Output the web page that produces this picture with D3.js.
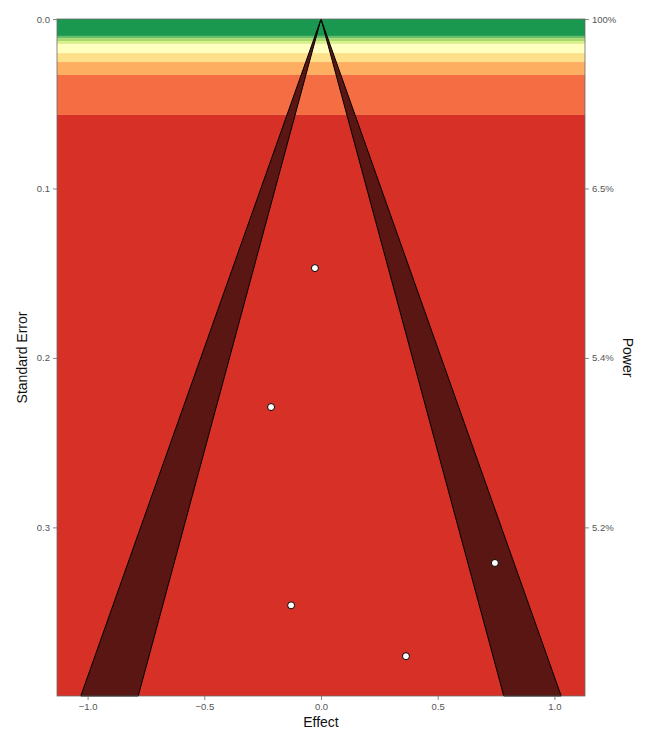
<!DOCTYPE html>
<html>
<head>
<meta charset="utf-8">
<script src="https://cdn.jsdelivr.net/npm/d3@7"></script>
<style>
  body { margin: 0; background: #fff; }
  svg { display: block; font-family: "Liberation Sans", Arial, sans-serif; }
</style>
</head>
<body>
<script>
// study effects and standard errors
var effects = [-0.026, -0.214, -0.128, 0.364, 0.745];
var stdErrors = [0.147, 0.229, 0.346, 0.376, 0.321];

// power bands (SE breakpoints, top to bottom) and their colours
var bandStops = [0, 0.0100, 0.0115, 0.0130, 0.0147, 0.0201, 0.0254, 0.0330, 0.0566, 0.3995];
var bandColors = ['#1a9850', '#66bd63', '#a6d96a', '#d9ef8b', '#ffffbf', '#fee08b', '#fdae61', '#f46d43', '#d73027'];

// significance contours (z)
var zInner = 1.96;
var zOuter = 2.576;

var xTicks = [-1.0, -0.5, 0.0, 0.5, 1.0];
var yTicks = [0.0, 0.1, 0.2, 0.3];
var powerLabels = ['100%', '6.5%', '5.4%', '5.2%'];

var width = 645, height = 736;
var margin = {top: 19, right: 60, bottom: 40, left: 57};

var svg = d3.select('body').append('svg')
    .attr('width', width)
    .attr('height', height);

var x = d3.scaleLinear()
    .domain([-1.131, 1.131])
    .range([margin.left, width - margin.right]);

var y = d3.scaleLinear()
    .domain([0, 0.3995])
    .range([margin.top, height - margin.bottom]);

var seMax = y.domain()[1];

// sunset bands
var bands = d3.range(bandColors.length).map(function(i) {
    return {from: bandStops[i], to: bandStops[i + 1], color: bandColors[i]};
});

svg.append('g').selectAll('rect')
    .data(bands)
    .enter().append('rect')
    .attr('x', x.range()[0])
    .attr('width', x.range()[1] - x.range()[0])
    .attr('y', function(d) { return y(d.from); })
    .attr('height', function(d) { return y(d.to) - y(d.from); })
    .attr('fill', function(d) { return d.color; });

// contour bands between z 1.96 and 2.576
var sides = [-1, 1];
var bandPoly = sides.map(function(s) {
    return [
        [0, 0],
        [s * zOuter * seMax, seMax],
        [s * zInner * seMax, seMax]
    ];
});

var line = d3.line()
    .x(function(d) { return x(d[0]); })
    .y(function(d) { return y(d[1]); });

svg.append('g').selectAll('path')
    .data(bandPoly)
    .enter().append('path')
    .attr('d', function(d) { return line(d) + 'Z'; })
    .attr('fill', '#5a1612')
    .attr('stroke', '#000')
    .attr('stroke-width', 1)
    .attr('stroke-linejoin', 'round');

// study points
var pts = effects.map(function(e, i) { return {e: e, se: stdErrors[i]}; });

svg.append('g').selectAll('circle')
    .data(pts)
    .enter().append('circle')
    .attr('cx', function(d) { return x(d.e); })
    .attr('cy', function(d) { return y(d.se); })
    .attr('r', 3.5)
    .attr('fill', '#fff')
    .attr('stroke', '#000')
    .attr('stroke-width', 1);

// panel outline
svg.append('rect')
    .attr('x', x.range()[0])
    .attr('y', y.range()[0])
    .attr('width', x.range()[1] - x.range()[0])
    .attr('height', y.range()[1] - y.range()[0])
    .attr('fill', 'none')
    .attr('stroke', '#6b6b6b')
    .attr('stroke-width', 0.8);

// axes
function styleAxis(g) {
    g.select('.domain').remove();
    g.selectAll('.tick line').attr('stroke', '#6b6b6b').attr('stroke-width', 0.8);
    g.selectAll('.tick text').attr('fill', '#555').style('font-size', '9.5px');
}

svg.append('g')
    .attr('transform', 'translate(0,' + y.range()[1] + ')')
    .call(d3.axisBottom(x).tickValues(xTicks).tickFormat(d3.format('.1f')).tickSize(4).tickPadding(3))
    .call(styleAxis);

svg.append('g')
    .attr('transform', 'translate(' + x.range()[0] + ',0)')
    .call(d3.axisLeft(y).tickValues(yTicks).tickFormat(d3.format('.1f')).tickSize(4).tickPadding(3))
    .call(styleAxis);

svg.append('g')
    .attr('transform', 'translate(' + x.range()[1] + ',0)')
    .call(d3.axisRight(y).tickValues(yTicks)
        .tickFormat(function(d, i) { return powerLabels[i]; })
        .tickSize(4).tickPadding(3))
    .call(styleAxis);

// axis titles
svg.append('text')
    .attr('x', x(0))
    .attr('y', 727)
    .attr('text-anchor', 'middle')
    .style('font-size', '14px')
    .attr('fill', '#111')
    .text('Effect');

svg.append('text')
    .attr('transform', 'translate(27,' + ((y.range()[0] + y.range()[1]) / 2) + ') rotate(-90)')
    .attr('text-anchor', 'middle')
    .style('font-size', '14px')
    .attr('fill', '#111')
    .text('Standard Error');

svg.append('text')
    .attr('transform', 'translate(623,' + ((y.range()[0] + y.range()[1]) / 2) + ') rotate(90)')
    .attr('text-anchor', 'middle')
    .style('font-size', '14px')
    .attr('fill', '#111')
    .text('Power');
</script>
</body>
</html>
